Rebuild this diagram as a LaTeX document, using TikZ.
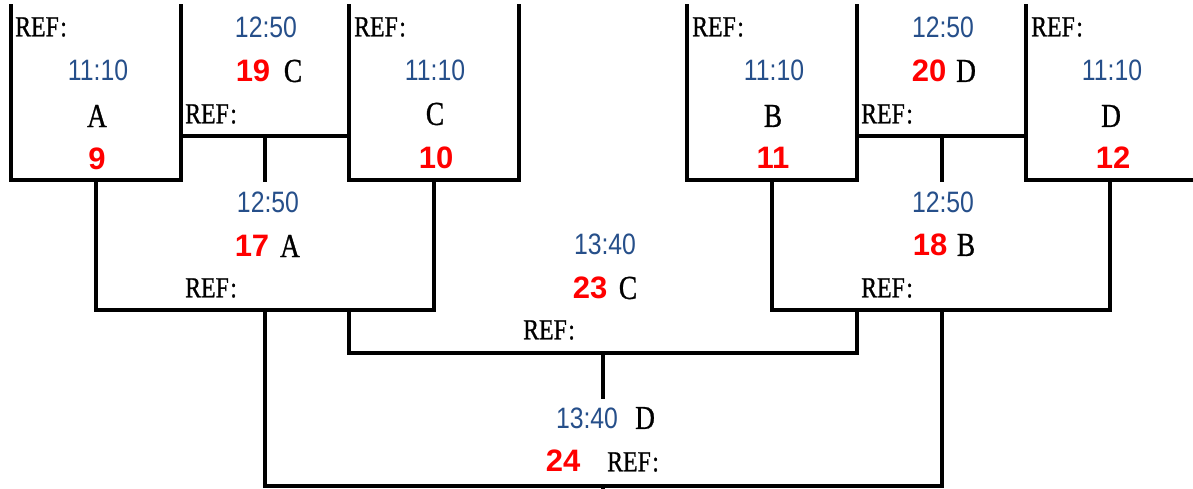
\documentclass[tikz,border=0pt]{standalone}
\usepackage{fontspec}
\setmainfont{Liberation Serif}
\newfontfamily\reffont[FakeStretch=0.82,FakeBold=0.8]{Liberation Serif}
\newfontfamily\timefont[FakeStretch=0.84]{Liberation Sans}
\newfontfamily\numfont{Liberation Sans}
\definecolor{timeblue}{RGB}{38,79,138}
\definecolor{numred}{RGB}{255,0,0}
\tikzset{
  bline/.style={line width=3.3pt, line join=miter, line cap=rect},
  reftext/.style={anchor=west, inner sep=0pt, font=\reffont\fontsize{29}{29}\selectfont},
  timetext/.style={inner sep=0pt, text=timeblue, font=\timefont\fontsize{29.5}{29.5}\selectfont},
  lettext/.style={inner sep=0pt, font=\reffont\fontsize{33.5}{33.5}\selectfont},
  numtext/.style={inner sep=0pt, text=numred, font=\numfont\bfseries\fontsize{31}{31}\selectfont},
}
\newcommand{\reflabel}{REF\kern1.5pt:}
\begin{document}
\begin{tikzpicture}[x=1pt,y=-1pt]
\useasboundingbox (0,0) rectangle (1193,489);
% ---------- coordinates of the bracket ----------
\coordinate (a1) at (11,6);   \coordinate (a2) at (11,180);  \coordinate (a3) at (181,180);  \coordinate (a4) at (181,6);
\coordinate (h1) at (181,136); \coordinate (h2) at (349,136); \coordinate (h3) at (265,136);  \coordinate (h4) at (265,180);
\coordinate (b1) at (349,6);  \coordinate (b2) at (349,180); \coordinate (b3) at (519,180);  \coordinate (b4) at (519,6);
\coordinate (c1) at (96,180); \coordinate (c2) at (96,310);  \coordinate (c3) at (434,310);  \coordinate (c4) at (434,180);
\coordinate (d1) at (687,6);  \coordinate (d2) at (687,180); \coordinate (d3) at (857,180);  \coordinate (d4) at (857,6);
\coordinate (k1) at (857,136); \coordinate (k2) at (1026,136); \coordinate (k3) at (942,136); \coordinate (k4) at (942,180);
\coordinate (e1) at (1026,6); \coordinate (e2) at (1026,180); \coordinate (e3) at (1193,180);
\coordinate (f1) at (772,180); \coordinate (f2) at (772,310); \coordinate (f3) at (1110,310); \coordinate (f4) at (1110,180);
\coordinate (g1) at (349,310); \coordinate (g2) at (349,353); \coordinate (g3) at (857,353); \coordinate (g4) at (857,310);
\coordinate (m1) at (603,353); \coordinate (m2) at (603,397);
\coordinate (p1) at (265,310); \coordinate (p2) at (265,486); \coordinate (p3) at (942,486); \coordinate (p4) at (942,310);
\coordinate (q1) at (603,486); \coordinate (q2) at (603,489);
% ---------- lines ----------
\draw[bline] (a1) -- (a2) -- (a3) -- (a4);
\draw[bline] (h1) -- (h2);
\draw[bline] (h3) -- (h4);
\draw[bline] (b1) -- (b2) -- (b3) -- (b4);
\draw[bline] (c1) -- (c2) -- (c3) -- (c4);
\draw[bline] (d1) -- (d2) -- (d3) -- (d4);
\draw[bline] (k1) -- (k2);
\draw[bline] (k3) -- (k4);
\draw[bline] (e1) -- (e2) -- (e3);
\draw[bline] (f1) -- (f2) -- (f3) -- (f4);
\draw[bline] (g1) -- (g2) -- (g3) -- (g4);
\draw[bline] (m1) -- (m2);
\draw[bline] (p1) -- (p2) -- (p3) -- (p4);
\draw[bline, line cap=butt] (q1) -- (q2);
% ---------- box 9 ----------
\node[reftext] (ref9) at (15,27) {\reflabel};
\node[timetext] (t9) at (98,70) {11:10};
\node[lettext] (l9) at (97,116) {A};
\node[numtext] (n9) at (97,159) {9};
% ---------- game 19 ----------
\node[timetext] (t19) at (266,27) {12:50};
\node[numtext] (n19) at (253,71) {19};
\node[lettext] (l19) at (293,71) {C};
\node[reftext] (ref19) at (185,114) {\reflabel};
% ---------- box 10 ----------
\node[reftext] (ref10) at (354,27) {\reflabel};
\node[timetext] (t10) at (435,70) {11:10};
\node[lettext] (l10) at (435,114) {C};
\node[numtext] (n10) at (436,158) {10};
% ---------- box 11 ----------
\node[reftext] (ref11) at (692,27) {\reflabel};
\node[timetext] (t11) at (774,70) {11:10};
\node[lettext] (l11) at (773,116) {B};
\node[numtext] (n11) at (773,158) {11};
% ---------- game 20 ----------
\node[timetext] (t20) at (943,27) {12:50};
\node[numtext] (n20) at (929,71) {20};
\node[lettext] (l20) at (966,71) {D};
\node[reftext] (ref20) at (861,114) {\reflabel};
% ---------- box 12 ----------
\node[reftext] (ref12) at (1031,27) {\reflabel};
\node[timetext] (t12) at (1112,70) {11:10};
\node[lettext] (l12) at (1111,116) {D};
\node[numtext] (n12) at (1113,158) {12};
% ---------- game 17 ----------
\node[timetext] (t17) at (268,202) {12:50};
\node[numtext] (n17) at (252,246) {17};
\node[lettext] (l17) at (290,246) {A};
\node[reftext] (ref17) at (185,288) {\reflabel};
% ---------- game 18 ----------
\node[timetext] (t18) at (943,202) {12:50};
\node[numtext] (n18) at (930,245) {18};
\node[lettext] (l18) at (966,245) {B};
\node[reftext] (ref18) at (861,288) {\reflabel};
% ---------- game 23 ----------
\node[timetext] (t23) at (605,244) {13:40};
\node[numtext] (n23) at (590,288) {23};
\node[lettext] (l23) at (628,288) {C};
\node[reftext] (ref23) at (523,330) {\reflabel};
% ---------- game 24 ----------
\node[timetext] (t24) at (587,418) {13:40};
\node[lettext] (l24) at (645,418) {D};
\node[numtext] (n24) at (563,461) {24};
\node[reftext] (ref24) at (607,462) {\reflabel};
\end{tikzpicture}
\end{document}
